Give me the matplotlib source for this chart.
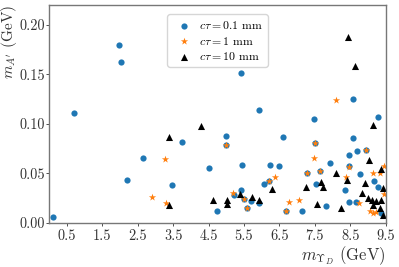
import matplotlib
matplotlib.use("Agg")
import matplotlib.pyplot as plt

plt.rcParams['font.family'] = 'serif'
plt.rcParams['font.serif'] = ['cmr10', 'DejaVu Serif']
plt.rcParams['mathtext.fontset'] = 'cm'
plt.rcParams['axes.formatter.use_mathtext'] = True

blue_x = [0.11, 0.70, 1.97, 2.03, 2.19, 2.66, 3.48, 3.74, 4.50, 4.75, 4.98, 4.98, 5.23, 5.42, 5.42,
          5.45, 5.49, 5.58, 5.70, 5.92, 5.93, 6.05, 6.20, 6.23, 6.48, 6.61, 6.68, 7.14, 7.27, 7.48,
          7.50, 7.52, 7.64, 7.80, 7.92, 8.34, 8.46, 8.46, 8.47, 8.56, 8.57, 8.65, 8.69, 8.78, 8.95,
          9.17, 9.28, 9.29, 9.35]
blue_y = [0.006, 0.111, 0.180, 0.163, 0.043, 0.066, 0.038, 0.082, 0.055, 0.012, 0.088, 0.079, 0.028, 0.151, 0.033,
          0.059, 0.024, 0.015, 0.022, 0.114, 0.020, 0.039, 0.042, 0.059, 0.058, 0.087, 0.012, 0.012, 0.050, 0.105,
          0.081, 0.039, 0.052, 0.017, 0.061, 0.033, 0.069, 0.058, 0.021, 0.086, 0.125, 0.021, 0.073, 0.049, 0.074,
          0.042, 0.036, 0.107, 0.010]

orange_x = [2.90, 3.27, 3.29, 4.98, 5.19, 5.49, 5.58, 6.20, 6.36, 6.68, 6.78, 7.06, 7.27, 7.46,
            7.50, 7.64, 8.09, 8.37, 8.45, 8.74, 8.95, 9.06, 9.14, 9.15, 9.23, 9.34, 9.45, 9.46]
orange_y = [0.026, 0.065, 0.020, 0.079, 0.030, 0.024, 0.015, 0.042, 0.046, 0.012, 0.021, 0.023, 0.050, 0.066,
            0.081, 0.052, 0.124, 0.046, 0.056, 0.020, 0.074, 0.012, 0.050, 0.010, 0.011, 0.050, 0.057, 0.029]

black_x = [3.37, 3.38, 4.28, 4.63, 5.02, 5.03, 5.39, 5.73, 5.91, 6.29, 7.26, 7.57, 7.66, 7.72, 8.09, 8.23,
           8.41, 8.42, 8.64, 8.83, 8.90, 9.01, 9.03, 9.11, 9.14, 9.15, 9.23, 9.34, 9.35, 9.36, 9.42, 9.42]
black_y = [0.087, 0.018, 0.098, 0.023, 0.023, 0.019, 0.029, 0.026, 0.023, 0.034, 0.036, 0.019, 0.041, 0.036, 0.050, 0.015,
           0.043, 0.188, 0.158, 0.030, 0.040, 0.025, 0.064, 0.023, 0.099, 0.018, 0.022, 0.015, 0.023, 0.054, 0.035, 0.008]

labels = [r'$c\tau = 0.1$ mm', r'$c\tau = 1$ mm', r'$c\tau = 10$ mm']
xticks = [0.5, 1.5, 2.5, 3.5, 4.5, 5.5, 6.5, 7.5, 8.5, 9.5]
yticks = [0.00, 0.05, 0.10, 0.15, 0.20]

fig = plt.figure(figsize=(3.99, 2.67), dpi=100)
ax = fig.add_axes([0.123, 0.165, 0.844, 0.816])

ax.scatter(blue_x, blue_y, s=20, marker='o', color='#1f77b4', label=labels[0], linewidths=0)
ax.scatter(orange_x, orange_y, s=30, marker='*', color='#ff7f0e', label=labels[1], linewidths=0)
ax.scatter(black_x, black_y, s=26, marker='^', color='black', label=labels[2], linewidths=0)

ax.set_xlim(0, 9.5)
ax.set_ylim(0, 0.22)
ax.set_xticks(xticks)
ax.set_xticklabels([f'{t:.1f}' for t in xticks])
ax.set_yticks(yticks)
ax.set_yticklabels([f'{t:.2f}' for t in yticks])
ax.tick_params(labelsize=10.3, colors='#333333', length=2, width=0.6, pad=1.2)
ax.tick_params(axis='x', pad=2.5)
for sp in ax.spines.values():
    sp.set_color('#777777')
    sp.set_linewidth(1.0)

ax.set_xlabel(r'$m_{\Upsilon_D}$ (GeV)', fontsize=12, loc='right', labelpad=1, color='#333333')
ax.set_ylabel(r"$m_{A^\prime}$ (GeV)", fontsize=11, loc='top', color='#333333')
ax.yaxis.set_label_coords(-0.09, 1.0)

ax.legend(loc='upper center', fontsize=8.5, frameon=True, handletextpad=0.3, borderpad=0.4,
          labelspacing=0.3, bbox_to_anchor=(0.5, 0.985))

fig.savefig('out.png', dpi=100)
